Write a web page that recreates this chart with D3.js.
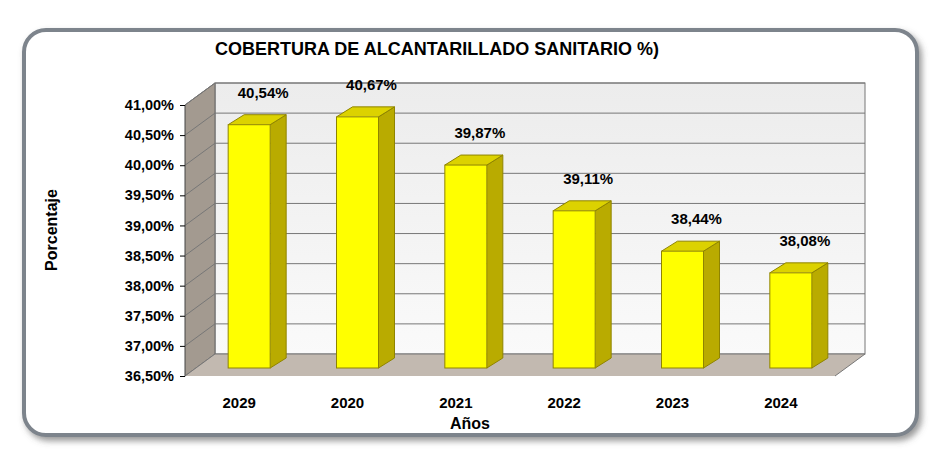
<!DOCTYPE html>
<html><head><meta charset="utf-8">
<script src="https://cdn.jsdelivr.net/npm/d3@7"></script>
<style>body{margin:0;background:#fff}text{font-family:"Liberation Sans",Arial,sans-serif}</style>
</head><body><div id="chart"></div>
<script>
var years = ["2029", "2020", "2021", "2022", "2023", "2024"];
var values = [40.54, 40.67, 39.87, 39.11, 38.44, 38.08];
var ticks = [36.5, 37, 37.5, 38, 38.5, 39, 39.5, 40, 40.5, 41];

var W = 941, H = 457;
var dx = 30, dy = -22;          // depth of the walls
var bdx = 16, bdy = -10;        // depth of a bar
var fmt = function (v) { return v.toFixed(2).replace(".", ",") + "%"; };

var svg = d3.select("#chart").append("svg").attr("width", W).attr("height", H);
var defs = svg.append("defs");
var sh = defs.append("filter").attr("id", "sh").attr("x", "-5%").attr("y", "-5%").attr("width", "110%").attr("height", "115%");
sh.append("feDropShadow").attr("dx", 3).attr("dy", 4).attr("stdDeviation", 3).attr("flood-color", "#555").attr("flood-opacity", 0.6);
var gr = defs.append("linearGradient").attr("id", "wall").attr("x1", 0).attr("y1", 0).attr("x2", 0).attr("y2", 1);
gr.append("stop").attr("offset", "0").attr("stop-color", "#ececec");
gr.append("stop").attr("offset", "1").attr("stop-color", "#fafafa");

// frame
svg.append("rect").attr("x", 24).attr("y", 30).attr("width", 893).attr("height", 405)
    .attr("rx", 22).attr("fill", "#fff").attr("stroke", "#7d848c").attr("stroke-width", 4)
    .attr("filter", "url(#sh)");

var x = d3.scaleBand().domain(years).range([185, 835]);
var y = d3.scaleLinear().domain([36.5, 41]).range([376, 105]);
var x0 = 185, x1 = 835, yb = y(36.5), yt = y(41);

// back wall
svg.append("rect").attr("x", x0 + dx).attr("y", yt + dy).attr("width", x1 - x0).attr("height", yb - yt)
    .attr("fill", "url(#wall)").attr("stroke", "#777");
// left wall
svg.append("path").attr("d", d3.line()([[x0, yt], [x0 + dx, yt + dy], [x0 + dx, yb + dy], [x0, yb]]))
    .attr("fill", "#a39a90").attr("stroke", "#666");
// floor
svg.append("path").attr("d", d3.line()([[x0, yb], [x0 + dx, yb + dy], [x1 + dx, yb + dy], [x1, yb]]))
    .attr("fill", "#c2b9b0").attr("stroke", "#777");

// gridlines
svg.append("g").selectAll("path").data(ticks.slice(1)).enter().append("path")
    .attr("d", function (t) { return d3.line()([[x0, y(t)], [x0 + dx, y(t) + dy], [x1 + dx, y(t) + dy]]); })
    .attr("fill", "none").attr("stroke", "#777").attr("stroke-width", 1);

// y axis
svg.append("line").attr("x1", x0).attr("x2", x0).attr("y1", yt).attr("y2", yb).attr("stroke", "#444");
svg.append("g").attr("transform", "translate(" + x0 + ",0)")
    .call(d3.axisLeft(y).tickValues(ticks).tickFormat(fmt).tickSize(5))
    .call(function (g) { g.select(".domain").remove(); })
    .call(function (g) { g.selectAll("text").attr("font-size", 14.5).attr("font-weight", "bold").attr("fill", "#000").attr("dx", -3); });

// bars
var bw = 42;
var bars = svg.append("g").selectAll("g").data(values).enter().append("g");
function bx(i) { return x(years[i]) + x.bandwidth() / 2 - bw / 2 + 10; }
var base = yb - 8;
bars.append("path").attr("d", function (v, i) {
    var l = bx(i) + bw, t = y(v) - 8;
    return d3.line()([[l, t], [l + bdx, t + bdy], [l + bdx, base + bdy], [l, base]]);
}).attr("fill", "#b9ab00").attr("stroke", "#8f8400");
bars.append("path").attr("d", function (v, i) {
    var l = bx(i), t = y(v) - 8;
    return d3.line()([[l, t], [l + bdx, t + bdy], [l + bw + bdx, t + bdy], [l + bw, t]]);
}).attr("fill", "#dcd200").attr("stroke", "#8f8400");
bars.append("rect").attr("x", function (v, i) { return bx(i); }).attr("y", function (v) { return y(v) - 8; })
    .attr("width", bw).attr("height", function (v) { return base - (y(v) - 8); })
    .attr("fill", "#ffff00").attr("stroke", "#8f8400");
bars.append("text").attr("x", function (v, i) { return bx(i) + bw / 2 + 14; })
    .attr("y", function (v) { return y(v) - 35; }).attr("text-anchor", "middle")
    .attr("font-size", 15).attr("font-weight", "bold").text(fmt);

// x labels
svg.append("g").selectAll("text").data(years).enter().append("text")
    .attr("x", function (d) { return x(d) + x.bandwidth() / 2; }).attr("y", 408)
    .attr("text-anchor", "middle").attr("font-size", 15).attr("font-weight", "bold").text(function (d) { return d; });

svg.append("text").attr("x", 470).attr("y", 429).attr("text-anchor", "middle")
    .attr("font-size", 16).attr("font-weight", "bold").text("Años");
svg.append("text").attr("transform", "translate(57,230) rotate(-90)").attr("text-anchor", "middle")
    .attr("font-size", 16).attr("font-weight", "bold").text("Porcentaje");
svg.append("text").attr("x", 437).attr("y", 55).attr("text-anchor", "middle")
    .attr("font-size", 18).attr("font-weight", "bold").text("COBERTURA DE ALCANTARILLADO SANITARIO %)");
</script></body></html>
